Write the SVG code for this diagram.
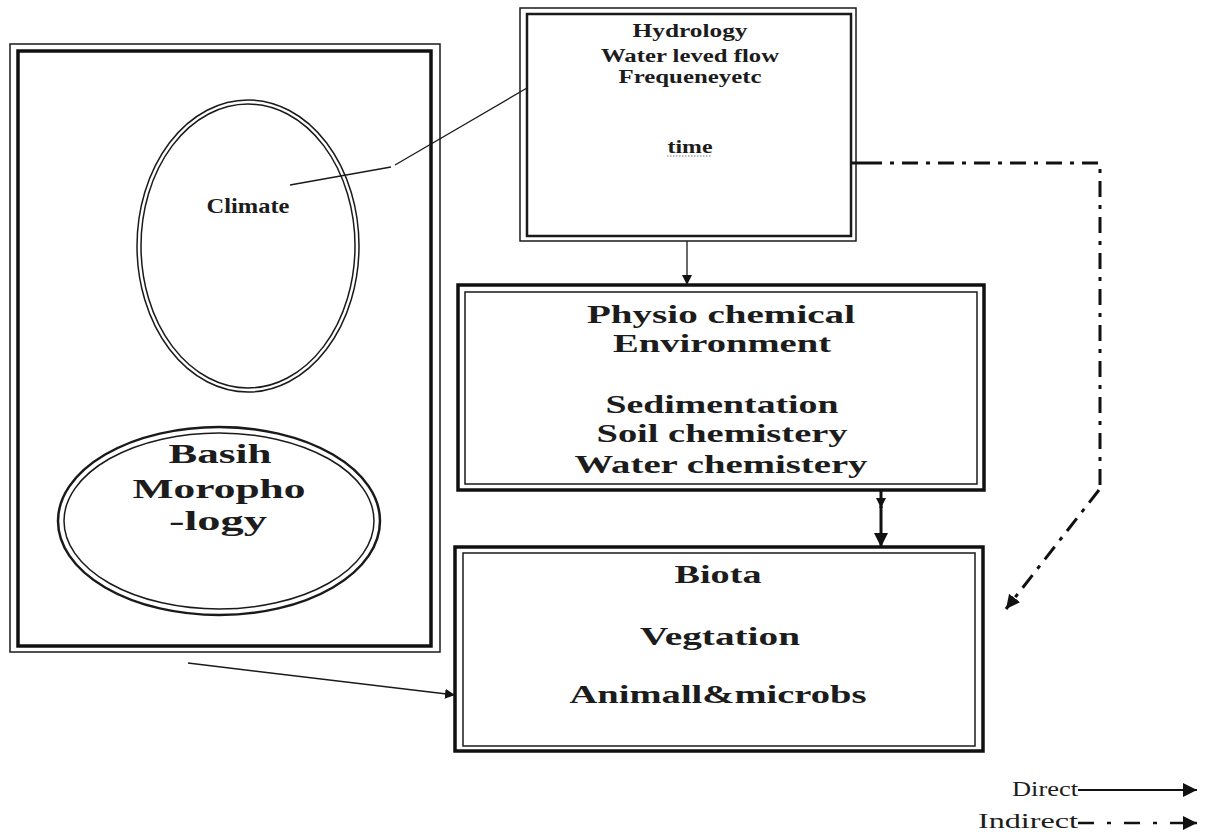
<svg xmlns="http://www.w3.org/2000/svg" width="1206" height="832" viewBox="0 0 1206 832">
<style>
  .t{font-family:"Liberation Serif","Times New Roman",serif;font-weight:bold;fill:#1c1c1c;text-anchor:middle}
  .leg{font-family:"Liberation Serif","Times New Roman",serif;fill:#1c1c1c;text-anchor:end;font-size:20px}
  .thin{fill:none;stroke:#1a1a1a;stroke-width:1.5}
  .thick{fill:none;stroke:#111;stroke-width:3.5}
  .mid{fill:none;stroke:#1a1a1a;stroke-width:2.5}
  .ln{fill:none;stroke:#1a1a1a;stroke-width:1.3}
  .dd{fill:none;stroke:#111;stroke-width:3;stroke-dasharray:16 8 4 8}
</style>
<defs>
  <marker id="ah" viewBox="0 0 10 10" refX="10" refY="5" markerWidth="10" markerHeight="10" markerUnits="userSpaceOnUse" orient="auto">
    <path d="M0,0 L10,5 L0,10 Z" fill="#111"/>
  </marker>
  <marker id="ahb" viewBox="0 0 10 10" refX="10" refY="5" markerWidth="14" markerHeight="14" markerUnits="userSpaceOnUse" orient="auto">
    <path d="M0,0 L10,5 L0,10 Z" fill="#111"/>
  </marker>
</defs>
<rect width="1206" height="832" fill="#fff"/>

<g id="left-panel">
  <rect class="thin" x="10" y="44" width="430" height="608"/>
  <rect class="thick" x="18" y="51" width="413" height="595"/>
</g>

<g id="climate">
  <ellipse class="thin" cx="248" cy="246" rx="111" ry="146"/>
  <ellipse class="thin" cx="248" cy="246" rx="107" ry="142"/>
  <text class="t" x="248" y="213" font-size="21" textLength="83" lengthAdjust="spacingAndGlyphs">Climate</text>
</g>

<g id="basin">
  <ellipse class="mid" cx="219" cy="521" rx="161" ry="94"/>
  <ellipse class="thin" cx="219" cy="521" rx="155" ry="88"/>
  <text class="t" x="220" y="463" font-size="27" textLength="103" lengthAdjust="spacingAndGlyphs">Basih</text>
  <text class="t" x="219" y="498" font-size="27" textLength="173" lengthAdjust="spacingAndGlyphs">Moropho</text>
  <text class="t" x="218" y="530" font-size="27" textLength="98" lengthAdjust="spacingAndGlyphs">-logy</text>
</g>

<g id="hydrology">
  <rect class="thin" x="520" y="8" width="336" height="233"/>
  <rect class="mid" x="527" y="14" width="324" height="222"/>
  <text class="t" x="690" y="37" font-size="18" textLength="115" lengthAdjust="spacingAndGlyphs">Hydrology</text>
  <text class="t" x="690" y="62" font-size="18" textLength="178" lengthAdjust="spacingAndGlyphs">Water leved flow</text>
  <text class="t" x="690" y="83" font-size="18" textLength="143" lengthAdjust="spacingAndGlyphs">Frequeneyetc</text>
  <text class="t" x="690" y="153" font-size="18" textLength="45" lengthAdjust="spacingAndGlyphs">time</text>
  <line x1="667" y1="156" x2="712" y2="156" stroke="#777" stroke-width="1.2" stroke-dasharray="1.5 1.5"/>
</g>

<g id="physio">
  <rect class="thick" x="458" y="285" width="526" height="205"/>
  <rect class="thin" x="465" y="292" width="512" height="192"/>
  <text class="t" x="721" y="323" font-size="26" textLength="268" lengthAdjust="spacingAndGlyphs">Physio chemical</text>
  <text class="t" x="722" y="352" font-size="26" textLength="218" lengthAdjust="spacingAndGlyphs">Environment</text>
  <text class="t" x="722" y="413" font-size="26" textLength="233" lengthAdjust="spacingAndGlyphs">Sedimentation</text>
  <text class="t" x="722" y="442" font-size="26" textLength="251" lengthAdjust="spacingAndGlyphs">Soil chemistery</text>
  <text class="t" x="721" y="473" font-size="26" textLength="293" lengthAdjust="spacingAndGlyphs">Water chemistery</text>
</g>

<g id="biota">
  <rect class="thick" x="455" y="547" width="528" height="204"/>
  <rect class="thin" x="463" y="553" width="512" height="193"/>
  <text class="t" x="718" y="583" font-size="25" textLength="87" lengthAdjust="spacingAndGlyphs">Biota</text>
  <text class="t" x="720" y="645" font-size="25" textLength="160" lengthAdjust="spacingAndGlyphs">Vegtation</text>
  <text class="t" x="718" y="703" font-size="25" textLength="297" lengthAdjust="spacingAndGlyphs">Animall&amp;microbs</text>
</g>

<g id="connectors">
  <polyline class="ln" points="290,185 391,167"/>
  <polyline class="ln" points="395,165 527,88"/>
  <line class="ln" x1="687" y1="241" x2="687" y2="285" marker-end="url(#ah)"/>
  <line x1="881" y1="490" x2="881" y2="508" stroke="#111" stroke-width="3" marker-end="url(#ah)"/>
  <line x1="881" y1="506" x2="881" y2="547" stroke="#111" stroke-width="3" marker-end="url(#ahb)"/>
  <line x1="188" y1="663" x2="455" y2="695" stroke="#1a1a1a" stroke-width="1.5" marker-end="url(#ah)"/>
  <line x1="852" y1="163" x2="866" y2="163" stroke="#111" stroke-width="3"/>
  <polyline class="dd" points="866,163 1100,163 1100,488"/>
  <line class="dd" x1="1099" y1="490" x2="1006" y2="609" stroke-width="2.6" marker-end="url(#ahb)"/>
</g>

<g id="legend">
  <text class="leg" x="1078" y="796" textLength="66" lengthAdjust="spacingAndGlyphs">Direct</text>
  <text class="leg" x="1078" y="828" textLength="100" lengthAdjust="spacingAndGlyphs">Indirect</text>
  <line x1="1078" y1="790" x2="1197" y2="790" stroke="#111" stroke-width="2" marker-end="url(#ahb)"/>
  <line x1="1078" y1="823" x2="1170" y2="823" stroke="#111" stroke-width="2.5" stroke-dasharray="16 13 4 13"/>
  <line x1="1170" y1="823" x2="1197" y2="823" stroke="#111" stroke-width="2.5" marker-end="url(#ahb)"/>
</g>
</svg>
